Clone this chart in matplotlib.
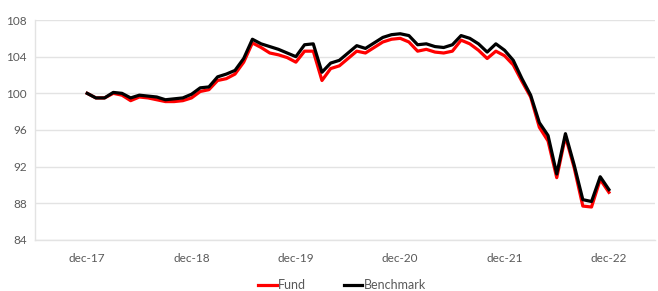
import numpy as np
import matplotlib.pyplot as plt

# monthly index values, dec-17 .. dec-22
fund = [100.0, 99.5, 99.5, 100.0, 99.8, 99.2, 99.6, 99.5, 99.3, 99.1, 99.1, 99.2,
        99.5, 100.2, 100.4, 101.4, 101.6, 102.1, 103.4, 105.5, 105.0, 104.4, 104.2, 103.9,
        103.4, 104.6, 104.6, 101.4, 102.7, 103.0, 103.8, 104.6, 104.4, 105.0, 105.6, 105.9,
        106.0, 105.6, 104.6, 104.8, 104.5, 104.4, 104.6, 105.8, 105.4, 104.7, 103.8, 104.6,
        104.1, 103.1, 101.3, 99.6, 96.3, 94.8, 90.8, 95.3, 91.9, 87.7, 87.6, 90.6,
        89.2]
benchmark = [100.0, 99.5, 99.5, 100.1, 100.0, 99.5, 99.8, 99.7, 99.6, 99.3, 99.4, 99.5,
             99.9, 100.6, 100.7, 101.8, 102.1, 102.5, 103.8, 105.9, 105.4, 105.1, 104.8, 104.4,
             104.0, 105.3, 105.4, 102.3, 103.3, 103.6, 104.4, 105.2, 104.9, 105.5, 106.1, 106.4,
             106.5, 106.3, 105.3, 105.4, 105.1, 105.0, 105.3, 106.3, 106.0, 105.4, 104.5, 105.4,
             104.7, 103.6, 101.6, 99.8, 96.8, 95.4, 91.2, 95.6, 92.2, 88.4, 88.2, 90.9,
             89.5]
tick_labels = ['dec-17', 'dec-18', 'dec-19', 'dec-20', 'dec-21', 'dec-22']
y_ticks = [84, 88, 92, 96, 100, 104, 108]

plt.rcParams['font.family'] = ['Lato', 'DejaVu Sans']

fig = plt.figure(figsize=(6.58, 2.91), dpi=100)
ax = fig.add_axes([35 / 658, 1 - 240 / 291, 620 / 658, 220 / 291])

x = np.arange(len(fund))
ax.plot(x, fund, color='#ff0000', lw=2.3, label='Fund')
ax.plot(x, benchmark, color='#000000', lw=2.3, label='Benchmark')

ax.set_xlim(-6, 65.3)
ax.set_ylim(84, 108)
ax.set_yticks(y_ticks)
ax.set_yticklabels([str(v) for v in y_ticks])
ax.set_xticks(np.arange(0, len(fund), 12))
ax.set_xticklabels(tick_labels)

ax.grid(axis='y', color='#e3e3e3', lw=1)
ax.set_axisbelow(True)
for s in ['top', 'right']:
    ax.spines[s].set_visible(False)
for s in ['left', 'bottom']:
    ax.spines[s].set_color('#e3e3e3')
    ax.spines[s].set_linewidth(1)
ax.tick_params(length=0, colors='#595959', labelsize=8.5)
ax.tick_params(axis='y', pad=6)
ax.tick_params(axis='x', pad=9)

fig.legend(loc='center', bbox_to_anchor=(342 / 658, 1 - 285 / 291), ncol=2,
           frameon=False, fontsize=9, handlelength=1.5, handletextpad=0.1,
           columnspacing=3.0, labelcolor='#595959')

fig.savefig('out.png', dpi=100)
